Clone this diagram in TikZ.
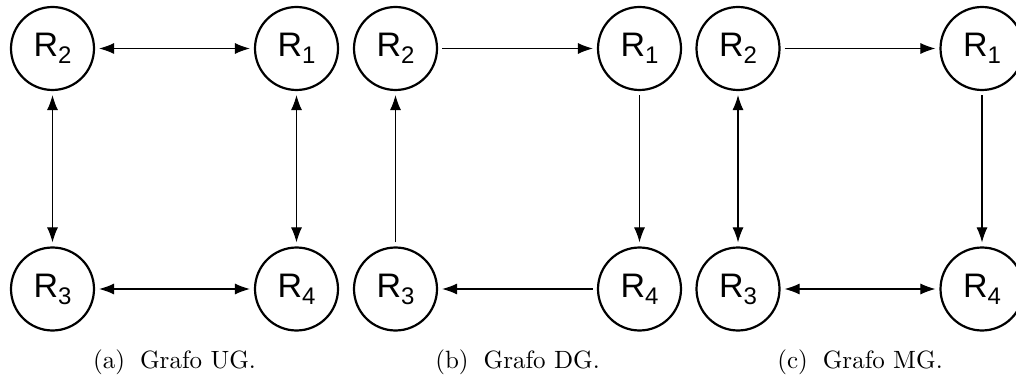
\documentclass[tikz,border=0pt]{standalone}
\usepackage{fontspec}
\newfontfamily\lblfont{Liberation Sans}
\newfontfamily\capfont{lmroman10-regular.otf}
\usetikzlibrary{arrows.meta}

% node label R with a lowered index
\newcommand{\reg}[1]{{\lblfont\fontsize{34}{34}\selectfont R\raisebox{-7pt}{\fontsize{24}{24}\selectfont #1}}}

\tikzset{
  regnode/.style={circle, draw, line width=2.2pt, minimum size=83pt, inner sep=0pt},
  link/.style={line width=1.1pt, shorten >=4pt, shorten <=4pt},
  uni/.style={link, -{Latex[length=15pt,width=11pt]}},
  bi/.style={link, {Latex[length=15pt,width=11pt]}-{Latex[length=15pt,width=11pt]}},
  captext/.style={font=\capfont\fontsize{25}{25}\selectfont, anchor=base, inner sep=0pt}
}

\begin{document}
\begin{tikzpicture}[x=1pt,y=-1pt]
\useasboundingbox (0,0) rectangle (1016,379);
\clip (0,0) rectangle (1016,379);

% (a) undirected graph
\node[regnode] (a2) at (52.5,48.5) {\reg{2}};
\node[regnode] (a1) at (296.5,48.5) {\reg{1}};
\node[regnode] (a3) at (52.5,289) {\reg{3}};
\node[regnode] (a4) at (296.5,289) {\reg{4}};
\draw[bi] (a2) -- (a1);
\draw[bi] (a2) -- (a3);
\draw[bi] (a1) -- (a4);
\draw[bi] (a3) -- (a4);
\node[captext] (capa) at (174.5,368) {(a)\hspace{15pt}Grafo UG.};

% (b) directed graph
\node[regnode] (b2) at (395.5,48.5) {\reg{2}};
\node[regnode] (b1) at (639.5,48.5) {\reg{1}};
\node[regnode] (b3) at (395.5,289) {\reg{3}};
\node[regnode] (b4) at (639.5,289) {\reg{4}};
\draw[uni] (b2) -- (b1);
\draw[uni] (b1) -- (b4);
\draw[uni] (b4) -- (b3);
\draw[uni] (b3) -- (b2);
\node[captext] (capb) at (517.5,368) {(b)\hspace{15pt}Grafo DG.};

% (c) mixed graph
\node[regnode] (c2) at (738,48.5) {\reg{2}};
\node[regnode] (c1) at (982,48.5) {\reg{1}};
\node[regnode] (c3) at (738,289) {\reg{3}};
\node[regnode] (c4) at (982,289) {\reg{4}};
\draw[uni] (c2) -- (c1);
\draw[uni] (c1) -- (c4);
\draw[bi] (c2) -- (c3);
\draw[bi] (c3) -- (c4);
\node[captext] (capc) at (860,368) {(c)\hspace{15pt}Grafo MG.};
\end{tikzpicture}
\end{document}
